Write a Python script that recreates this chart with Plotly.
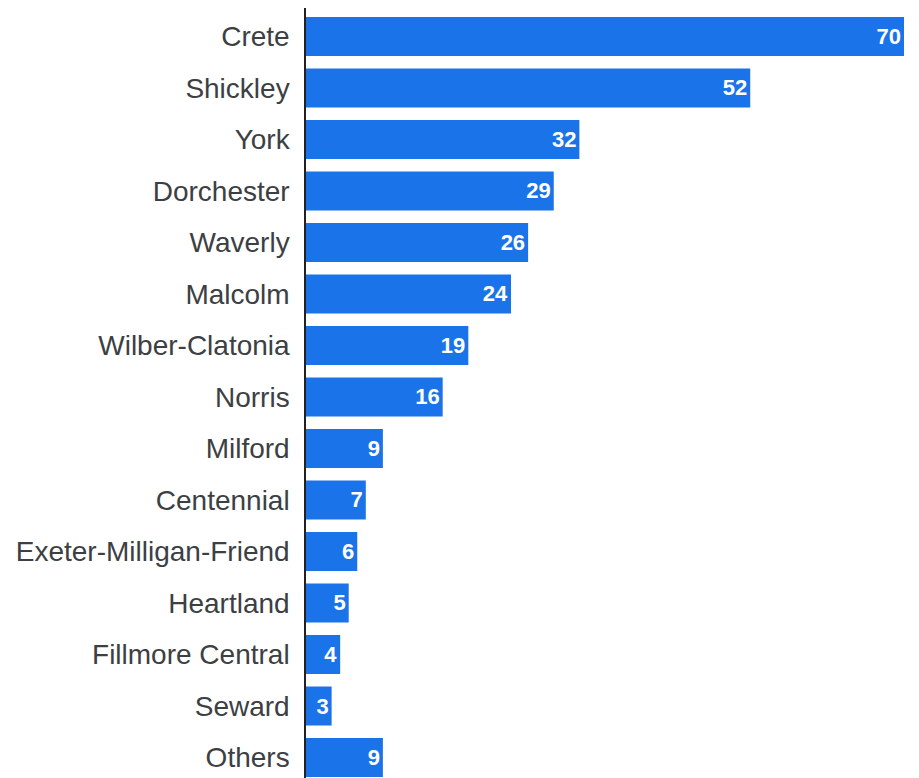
import plotly.graph_objects as go

categories = ["Crete", "Shickley", "York", "Dorchester", "Waverly", "Malcolm",
              "Wilber-Clatonia", "Norris", "Milford", "Centennial",
              "Exeter-Milligan-Friend", "Heartland", "Fillmore Central", "Seward", "Others"]
values = [70, 52, 32, 29, 26, 24, 19, 16, 9, 7, 6, 5, 4, 3, 9]

fig = go.Figure(go.Bar(
    x=values, y=categories, orientation="h",
    marker=dict(color="#1a73e8", line=dict(width=0)),
    text=[str(v) for v in values],
    textposition="inside", insidetextanchor="end",
    textangle=0,
    textfont=dict(family="Liberation Sans", size=22, color="white", weight="bold"),
    cliponaxis=False,
))

fig.update_layout(
    width=911, height=770,
    margin=dict(l=298, r=15, t=0, b=0),
    plot_bgcolor="white", paper_bgcolor="white",
    bargap=0.243,
    showlegend=False,
    uniformtext=dict(minsize=22, mode="show"),
)
fig.update_xaxes(range=[0, 70], visible=False, showgrid=False, zeroline=False)
fig.update_yaxes(
    type="category",
    categoryorder="array", categoryarray=categories,
    range=[14.398, -0.553],
    showline=True, linecolor="#222", linewidth=1.5,
    showgrid=False, zeroline=False,
    ticks="outside", ticklen=9, tickcolor="rgba(0,0,0,0)",
    tickfont=dict(family="Liberation Sans", size=28, color="#3c4043"),
)

fig.write_html("out.html")
